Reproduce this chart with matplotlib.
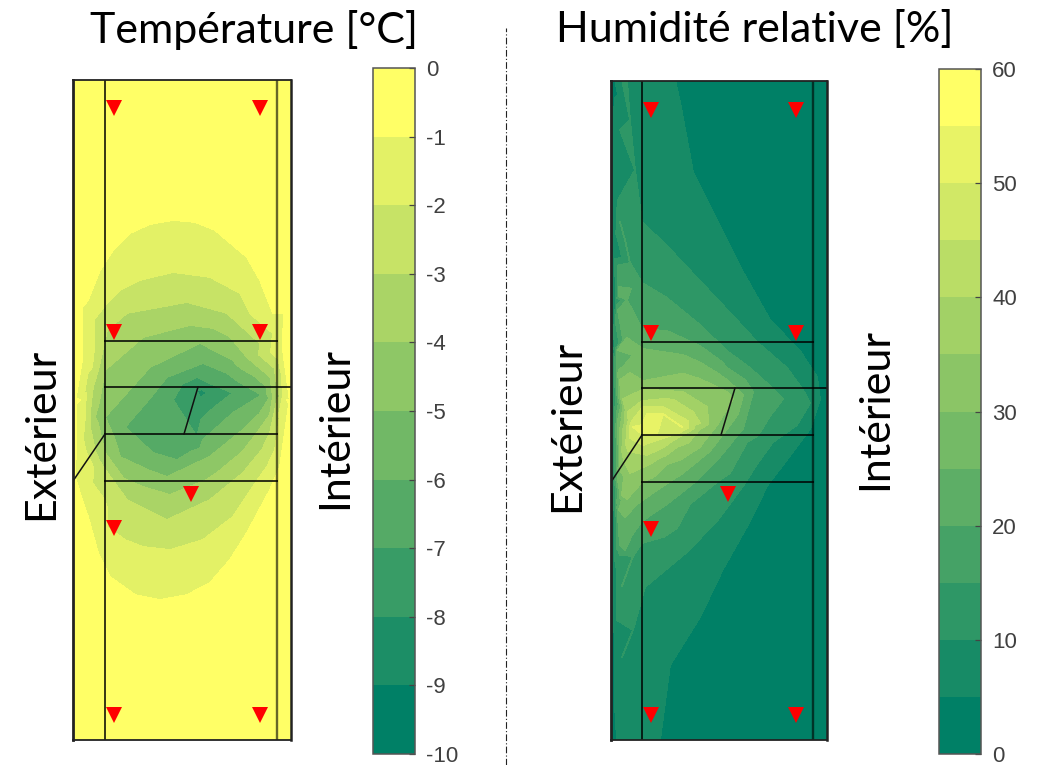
"""Wall section contour maps: temperature and relative humidity with colour bars."""
import numpy as np
import matplotlib
matplotlib.use("Agg")
import matplotlib.pyplot as plt

plt.rcParams["axes.unicode_minus"] = False
W, H = 1040, 765
FONT = "Lato"

# samples, (x, y) in picture pixels, one list per isoline
temp_wall = [(73, 80, -0.1), (182, 80, -0.2), (291, 80, -0.1), (73, 740, -0.1), (182, 740, -0.2),
             (291, 740, -0.1), (73, 300, -0.3), (73, 400, -0.7), (73, 600, -0.2),
             (291, 300, -0.3), (291, 400, -0.8), (291, 500, -0.3), (201, 393, -8.4)]
temp_levels = [-1, -2, -3, -4, -5, -6, -7, -8]
temp_lines = [
    [(173, 220), (150, 224), (130, 233), (113, 250), (100, 270), (88, 300), (82, 360), (80, 400), (76, 450),
     (75, 477), (82, 500), (88, 517), (98, 553), (110, 577), (135, 595), (160, 600), (187, 595), (210, 583),
     (230, 560), (247, 533), (270, 490), (280, 467), (287, 400), (283, 350), (273, 313), (260, 280), (247, 257),
     (215, 230), (195, 222)],
    [(173, 272), (140, 280), (120, 290), (107, 303), (92, 367), (85, 417), (93, 467), (107, 527), (125, 540),
     (143, 547), (170, 550), (203, 540), (233, 517), (267, 467), (283, 397), (273, 333), (240, 293), (210, 277)],
    [(187, 302), (127, 313), (107, 330), (93, 387), (90, 427), (103, 467), (127, 500), (167, 520), (210, 500),
     (243, 473), (270, 433), (280, 397), (260, 343), (227, 313)],
    [(190, 325), (143, 337), (105, 370), (95, 417), (105, 453), (143, 487), (170, 495), (217, 473), (257, 433),
     (273, 397), (247, 357)],
    [(200, 343), (150, 367), (105, 417), (120, 457), (167, 477), (203, 460), (243, 430), (270, 397), (233, 360)],
    [(203, 363), (167, 377), (125, 427), (153, 453), (177, 460), (203, 440), (233, 413), (262, 395), (227, 373)],
    [(197, 377), (173, 400), (152, 427), (180, 443), (197, 437), (233, 393), (207, 382)],
    [(197, 391), (202, 389), (207, 393), (200, 398)],
]

hum_wall = [(611, 80, 2), (720, 80, 1), (827, 80, 1), (827, 400, 4), (827, 740, 1), (720, 740, 1), (611, 740, 2),
            (611, 250, 3), (611, 350, 4), (611, 430, 4.5), (611, 481, 4.5), (611, 560, 4), (650, 428, 54),
            (625, 740, 8)]
hum_levels = [5, 10, 15, 20, 25, 30, 35, 40, 45, 50]
hum_lines = [
    [(675, 80), (680, 102), (693, 172), (717, 220), (743, 272), (770, 320), (800, 351), (817, 377), (820, 399),
     (810, 429), (787, 451), (767, 486), (750, 521), (723, 569), (700, 617), (670, 665), (660, 740),
     (617, 740), (615, 650), (613, 560), (612, 500), (612, 450), (613, 350), (614, 200), (615, 80)],
    [(627, 80), (630, 120), (635, 170), (642, 222), (667, 246), (700, 281), (733, 316), (757, 342), (787, 368),
     (803, 390), (810, 403), (797, 425), (773, 442), (743, 486), (717, 521), (687, 552), (645, 587), (633, 630),
     (622, 657), (617, 620), (615, 560), (614, 500), (614, 400), (616, 300), (618, 200), (620, 130), (622, 80)],
    [(620, 222), (625, 240), (630, 263), (642, 283), (667, 298), (700, 325), (727, 351), (750, 368), (770, 386),
     (783, 399), (770, 416), (747, 442), (717, 482), (690, 504), (642, 543), (633, 556), (622, 586), (618, 550),
     (616, 500), (615, 420), (616, 350), (618, 280)],
    [(620, 272), (627, 300), (633, 329), (642, 329), (667, 331), (700, 346), (727, 368), (753, 392), (743, 429),
     (717, 460), (690, 486), (667, 504), (642, 521), (632, 535), (625, 550), (620, 545), (617, 500), (616, 430),
     (617, 360), (618, 310)],
    [(620, 294), (627, 338), (633, 355), (643, 349), (683, 355), (717, 373), (740, 392), (730, 425), (710, 451),
     (683, 473), (657, 490), (637, 504), (625, 517), (619, 510), (618, 480), (618, 420), (618, 350)],
    [(622, 346), (630, 373), (643, 381), (700, 379), (727, 392), (733, 399), (717, 425), (700, 447), (667, 464),
     (642, 482), (627, 499), (622, 495), (620, 470), (620, 430), (620, 380)],
    [(623, 399), (633, 394), (643, 390), (683, 392), (707, 407), (700, 429), (677, 447), (650, 464), (630, 473),
     (622, 451)],
    [(628, 412), (642, 401), (663, 399), (693, 412), (700, 423), (677, 438), (647, 455), (628, 451)],
    [(632, 421), (643, 407), (663, 407), (688, 421), (663, 438), (643, 445), (630, 438)],
    [(633, 427), (647, 414), (663, 414), (682, 427), (657, 434), (642, 434)],
]

temp_bounds = np.arange(-10, 1, 1)
hum_bounds = np.arange(0, 65, 5)
temp_ticks = np.arange(-10, 1, 1)
hum_ticks = np.arange(0, 70, 10)
temp_sensors = [(114, 108), (260, 108), (114, 332), (260, 332), (191, 494), (114, 528), (114, 715), (260, 715)]
hum_sensors = [(651, 110), (796, 110), (651, 333), (796, 333), (728, 494), (651, 529), (651, 715), (796, 715)]


def px_axes(fig, x0, y0, x1, y1):
    return fig.add_axes([x0 / W, 1 - y1 / H, (x1 - x0) / W, (y1 - y0) / H])


def panel(fig, rect, cbar_rect, wall, lines, levels, bounds, ticks, sensors, seams):
    x0, x1, y0, y1 = rect
    xs, ys, zs = [p[0] for p in wall], [p[1] for p in wall], [p[2] for p in wall]
    for lev, line in zip(levels, lines):
        xs += [p[0] for p in line]
        ys += [p[1] for p in line]
        zs += [lev] * len(line)
    ax = px_axes(fig, x0, y0, x1, y1)
    colors = plt.cm.summer(np.linspace(0, 1, len(bounds) - 1))
    cs = ax.tricontourf(xs, ys, zs, levels=bounds, colors=colors)
    cs.set_edgecolor("face")
    cs.set_linewidth(0.5)
    ax.set_xlim(x0, x1)
    ax.set_ylim(y1, y0)
    ax.set_xticks([])
    ax.set_yticks([])
    for s in ax.spines.values():
        s.set_linewidth(1.3)
        s.set_color("#222222")
    ax.spines["left"].set_linewidth(2.0)
    ax.spines["right"].set_linewidth(1.8)

    xa, xb = seams["xa"], seams["xb"]
    ax.axvline(xa, color="k", lw=1.1)
    ax.axvline(xb, color="k", lw=1.7, alpha=0.6)
    for i, y in enumerate(seams["rows"]):
        ax.plot([xa, x1 if i == 1 else xb], [y, y], color="k", lw=1.4, alpha=0.8)
    ax.plot([xa, x0], [seams["rows"][2], seams["rows"][3]], color="#111111", lw=1.1)
    ax.plot(seams["slant_x"], [seams["rows"][1], seams["rows"][2]], color="#111111", lw=1.1)
    ax.plot([p[0] for p in sensors], [p[1] for p in sensors], ls="none", marker="v", ms=11.5,
            color="#ff0000", mew=0, zorder=6)

    cax = px_axes(fig, *cbar_rect)
    cb = fig.colorbar(cs, cax=cax, ticks=ticks)
    cb.ax.tick_params(length=4.3, width=0.9, direction="in", labelsize=16, pad=8, color="#444444",
                      labelcolor="#404040")
    cb.outline.set_linewidth(1.1)
    cb.outline.set_edgecolor("#555555")
    cb.ax.minorticks_off()
    for t in cb.ax.get_yticklabels():
        t.set_family("Liberation Sans")
    return ax


fig = plt.figure(figsize=(W / 100, H / 100), dpi=100, facecolor="white")

panel(fig, (73, 291, 80, 740), (373, 68, 415, 754), temp_wall, temp_lines, temp_levels, temp_bounds,
      temp_ticks, temp_sensors, dict(xa=105, xb=277, rows=[341, 387, 434, 481], slant_x=[198, 184]))
panel(fig, (611, 827, 81, 740), (939, 69, 981, 754), hum_wall, hum_lines, hum_levels, hum_bounds,
      hum_ticks, hum_sensors, dict(xa=642, xb=813, rows=[342, 388, 435, 482], slant_x=[735, 721]))

# slide-level annotations
texts = [(254, 30, "Température [°C]", 0), (755, 30, "Humidité relative [%]", 0),
         (41, 434, "Extérieur", 90), (335, 428, "Intérieur", 90),
         (567, 426, "Extérieur", 90), (875, 409, "Intérieur", 90)]
for x, y, s, rot in texts:
    fig.text(x / W, 1 - y / H, s, ha="center", va="center", rotation=rot, fontsize=31, family=FONT, color="black")
fig.add_artist(plt.Line2D([506 / W, 506 / W], [0, 1 - 28 / H], color="#222222", lw=0.8, ls=(0, (6, 2, 1, 2))))

fig.savefig("out.png", dpi=100, facecolor="white")
